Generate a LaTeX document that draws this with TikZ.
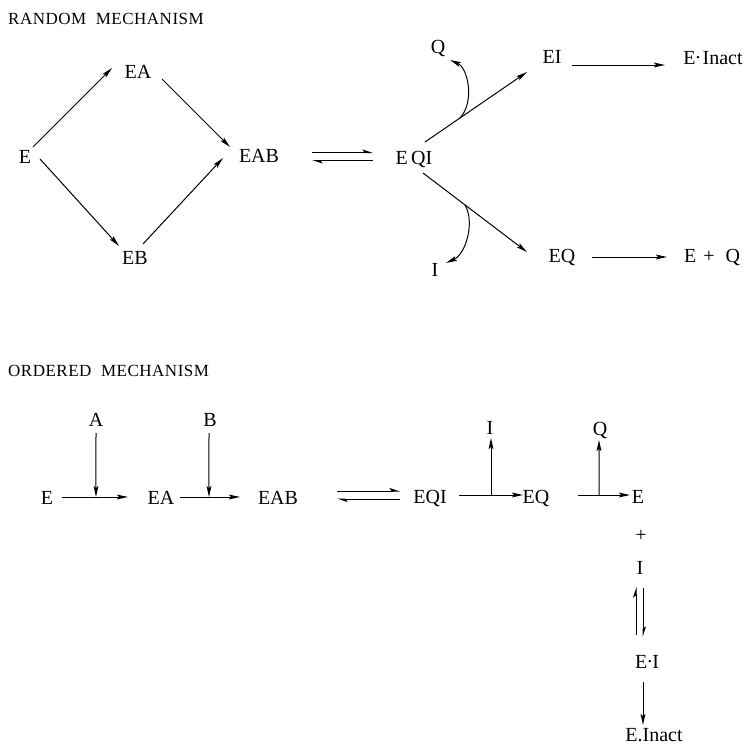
\documentclass[tikz,border=0pt]{standalone}
\usepackage{fontspec}
\setmainfont{Liberation Serif}
\usetikzlibrary{arrows.meta}

\tikzset{
  lbl/.style={inner sep=0pt, text height=13pt, text depth=0pt, font=\fontsize{20}{23}\selectfont},
  ttl/.style={inner sep=0pt, anchor=west, font=\fontsize{17}{20}\selectfont\addfontfeature{LetterSpace=3}},
  arr/.style={line width=1pt, -{Stealth[length=11pt,width=4.8pt,inset=2pt]}},
  harp/.style={line width=1pt, -{Stealth[harpoon,length=9pt,width=6pt,inset=2pt]}},
}

\begin{document}
\begin{tikzpicture}[x=1pt,y=-1pt]
\useasboundingbox (0,0) rectangle (748,745);

% ---------- random mechanism ----------
\node[ttl] (rtitle) at (8,19) {RANDOM\ \ MECHANISM};

\node[lbl] (rE)   at (25,157)  {E};
\node[lbl] (rEA)  at (138,72)  {EA};
\node[lbl] (rEAB) at (259,156) {EAB};
\node[lbl] (rEB)  at (135,258) {EB};
\node[lbl] (rEQI) at (414,158) {E\,QI};
\node[lbl] (rEI)  at (552,57)  {EI};
\node[lbl] (rEIn) at (713,58)  {E\raisebox{6pt}{.}\hspace{2pt}Inact};
\node[lbl] (rQ)   at (438,47)  {Q};
\node[lbl] (rI)   at (435,270) {I};
\node[lbl] (rEQ)  at (562,256) {EQ};
\node[lbl] (rEpQ) at (712,256) {E\hspace{7pt}+\hspace{11pt}Q};

% the square of binding steps
\draw[arr] ([shift={(8,-10)}]rE.center) -- ([shift={(-26,-4)}]rEA.center);
\draw[arr] ([shift={(24,7)}]rEA.center) -- ([shift={(-29,-9)}]rEAB.center);
\draw[arr] ([shift={(15,2)}]rE.center) -- ([shift={(-16,-12)}]rEB.center);
\draw[arr] ([shift={(8,-14)}]rEB.center) -- ([shift={(-36,2)}]rEAB.center);

% reversible step EAB <=> EQI
\draw[harp] ([shift={(53,-3.5)}]rEAB.center) -- ([shift={(-41,-5.5)}]rEQI.center);
\draw[harp] ([shift={(-41,2.5)}]rEQI.center) -- ([shift={(53,4.5)}]rEAB.center);

% branches leaving EQI
\draw[arr] ([shift={(11,-16)}]rEQI.center) -- coordinate[pos=0.343] (qfork) ([shift={(-25,15)}]rEI.center);
\draw[arr] (qfork) .. controls +(15,-16) and +(18,8) .. ([shift={(12,13)}]rQ.center);
\draw[arr] ([shift={(9,15)}]rEQI.center) -- coordinate[pos=0.404] (ifork) ([shift={(-35,-4)}]rEQ.center);
\draw[arr] (ifork) .. controls +(10,17) and +(20,-9) .. ([shift={(11,-7)}]rI.center);

\draw[arr] ([shift={(20,8)}]rEI.center) -- ([shift={(-48,7)}]rEIn.center);
\draw[arr] ([shift={(30,1)}]rEQ.center) -- ([shift={(-45,1)}]rEpQ.center);

% ---------- ordered mechanism ----------
\node[ttl] (otitle) at (8,371) {ORDERED\ \ MECHANISM};

\node[lbl] (oE)   at (47,498)  {E};
\node[lbl] (oA)   at (96,420)  {A};
\node[lbl] (oEA)  at (161,498) {EA};
\node[lbl] (oB)   at (210,420) {B};
\node[lbl] (oEAB) at (278,498) {EAB};
\node[lbl] (oEQI) at (430,497) {EQI};
\node[lbl] (oI)   at (490,428) {I};
\node[lbl] (oEQ)  at (536,497) {EQ};
\node[lbl] (oQ)   at (600,429) {Q};
\node[lbl] (oE2)  at (638,497) {E};
\node[lbl] (oplus) at (641,535) {+};
\node[lbl] (oI2)  at (640,568) {I};
\node[lbl] (oEI)  at (647,662) {E\raisebox{6pt}{.}I};
\node[lbl] (oIn)  at (654,735) {E.Inact};

\draw[arr] ([shift={(15,-1)}]oE.center) -- coordinate[pos=0.515] (ja) ([shift={(-33,-1)}]oEA.center);
\draw[arr] ([shift={(0,13)}]oA.center) -- (ja);
\draw[arr] ([shift={(19,-1)}]oEA.center) -- coordinate[pos=0.483] (jb) ([shift={(-38,-1)}]oEAB.center);
\draw[arr] ([shift={(-1,13)}]oB.center) -- (jb);

\draw[harp] ([shift={(59,-7)}]oEAB.center) -- ([shift={(-30,-6)}]oEQI.center);
\draw[harp] ([shift={(-30,2)}]oEQI.center) -- ([shift={(59,1)}]oEAB.center);

\draw[arr] ([shift={(29,-2)}]oEQI.center) -- coordinate[pos=0.5] (jc) ([shift={(-13,-2)}]oEQ.center);
\draw[arr] (jc) -- ([shift={(1,10)}]oI.center);
\draw[arr] ([shift={(42,-2)}]oEQ.center) -- coordinate[pos=0.404] (jd) ([shift={(-8,-2)}]oE2.center);
\draw[arr] (jd) -- ([shift={(-1,11)}]oQ.center);

\draw[harp] ([shift={(-11,-27)}]oEI.center) -- ([shift={(-4,19)}]oI2.center);
\draw[harp] ([shift={(3,20)}]oI2.center) -- ([shift={(-4,-25)}]oEI.center);
\draw[arr] ([shift={(-4,20)}]oEI.center) -- ([shift={(-11,-10)}]oIn.center);
\end{tikzpicture}
\end{document}
